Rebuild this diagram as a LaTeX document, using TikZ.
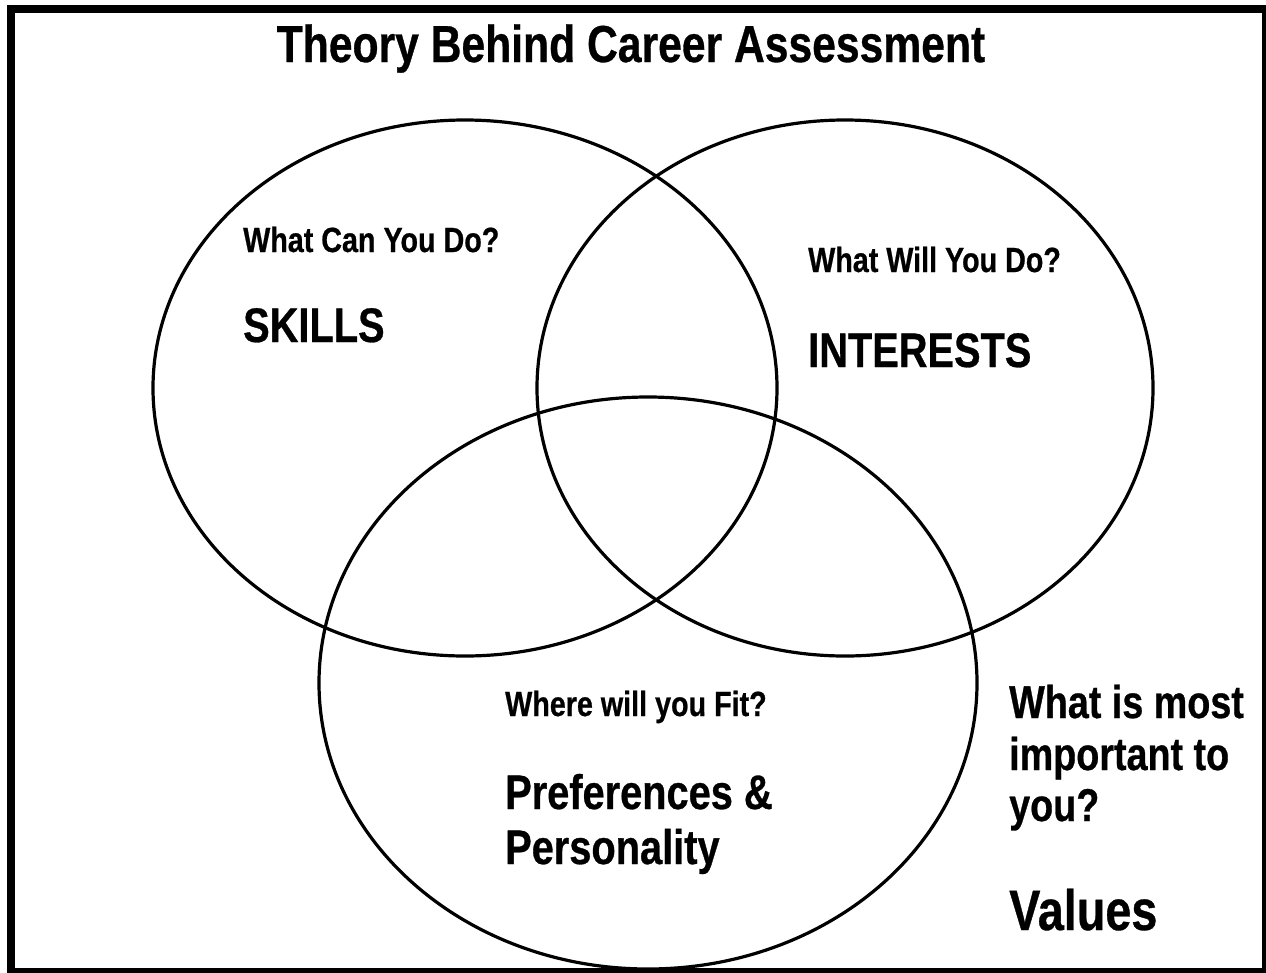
\documentclass[tikz,border=0pt]{standalone}
\usepackage{fontspec}
\setmainfont{Liberation Sans}
\newfontfamily\narrowfont{Liberation Sans}[FakeStretch=0.82,BoldFeatures={FakeBold=0.6}]
\usetikzlibrary{shapes.geometric}

\begin{document}
\begin{tikzpicture}[x=1pt,y=-1pt,
        ring/.style={draw,ellipse,line width=3.2pt,inner sep=0pt},
        txt/.style={anchor=base west,inner sep=0pt},
        question/.style={txt,font=\narrowfont\bfseries\fontsize{35}{42}\selectfont},
        answer/.style={txt,font=\narrowfont\bfseries\fontsize{48.5}{56}\selectfont},
        side/.style={txt,font=\narrowfont\bfseries\fontsize{46}{52}\selectfont}]
    \useasboundingbox (0,0) rectangle (1266,972);
    \clip (0,0) rectangle (1266,972);
    \draw[line width=8pt] (11,9) rectangle (1266,972);

    \node[anchor=base,inner sep=0pt,font=\narrowfont\bfseries\fontsize{52}{60}\selectfont]
        (title) at (631,62) {Theory Behind Career Assessment};

    % the three circles
    \node[ring,minimum width=624pt,minimum height=536pt] (skills) at (465,388) {};
    \node[ring,minimum width=616pt,minimum height=536pt] (interests) at (845,388) {};
    \node[ring,minimum width=658pt,minimum height=572pt] (fit) at (648,683) {};

    \node[question] (q1) at (243,252) {What Can You Do?};
    \node[answer] (a1) at (243,342) {SKILLS};
    \node[question] (q2) at (808,272) {What Will You Do?};
    \node[answer] (a2) at (808,367) {INTERESTS};
    \node[question] (q3) at (505,716) {Where will you Fit?};
    \node[answer] (a3) at (505,809) {Preferences \&};
    \node[answer] (a3b) at (505,864) {Personality};

    \node[side] (q4) at (1009,718) {What is most};
    \node[side] (q4b) at (1009,770) {important to};
    \node[side] (q4c) at (1009,821) {you?};
    \node[side,font=\narrowfont\bfseries\fontsize{57}{62}\selectfont] (a4) at (1009,930) {Values};
\end{tikzpicture}
\end{document}
